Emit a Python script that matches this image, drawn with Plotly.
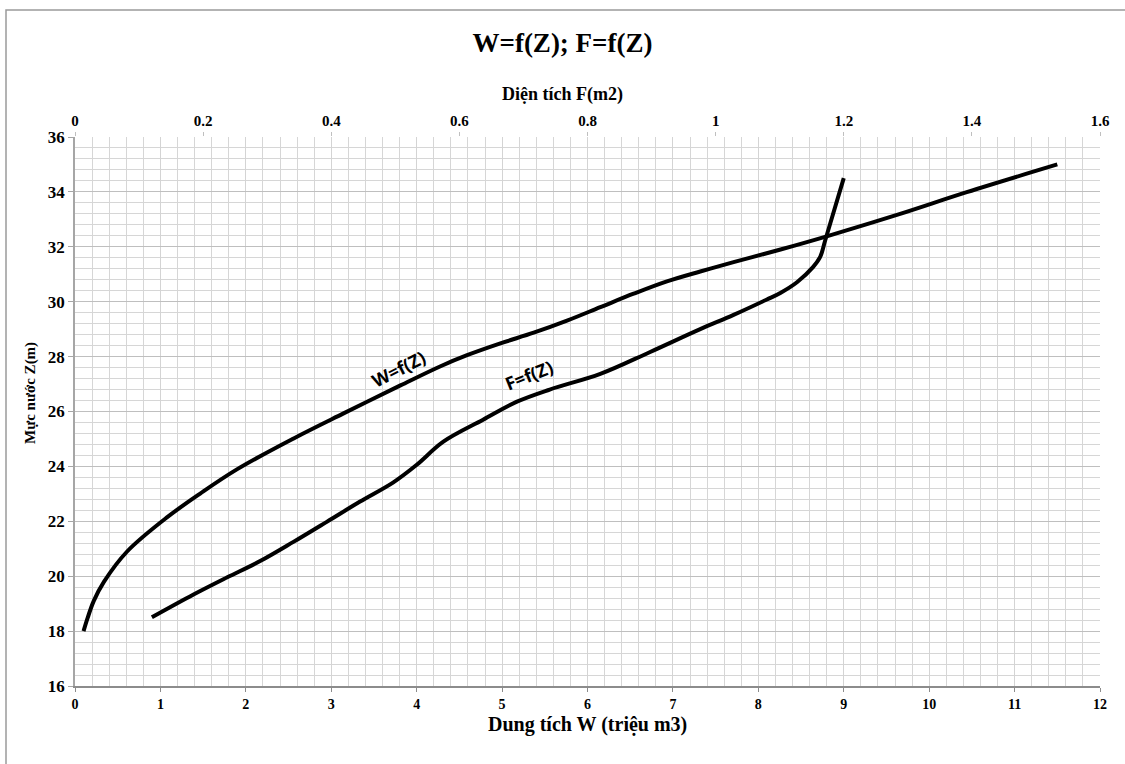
import plotly.graph_objects as go

# ---- data ----
W_storage = [0.10, 0.15, 0.22, 0.34, 0.61, 1.08, 1.47, 1.90, 2.56, 3.15, 3.81, 4.28,
             4.59, 4.98, 5.37, 5.76, 6.15, 6.54, 6.93, 7.32, 7.71, 8.26, 8.80,
             9.66, 10.44, 11.50]
Z_storage = [18.0, 18.5, 19.1, 19.8, 20.9, 22.15, 23.02, 23.9, 25.02, 25.94, 26.95, 27.65,
             28.05, 28.48, 28.87, 29.31, 29.8, 30.29, 30.74, 31.1, 31.44, 31.9, 32.38,
             33.2, 33.99, 35.0]

F_area = [0.120, 0.185, 0.237, 0.289, 0.341, 0.393, 0.445, 0.497, 0.533, 0.575,
          0.637, 0.689, 0.741, 0.820, 0.897, 0.976, 1.028, 1.080, 1.101, 1.127,
          1.152, 1.163, 1.171, 1.200]
Z_area = [18.5, 19.33, 19.95, 20.55, 21.25, 21.98, 22.72, 23.42, 24.05, 24.9,
          25.7, 26.35, 26.8, 27.37, 28.16, 29.0, 29.52, 30.08, 30.32, 30.71,
          31.26, 31.62, 32.23, 34.5]

W_ticks = list(range(0, 13))
F_ticks = [0, 0.2, 0.4, 0.6, 0.8, 1, 1.2, 1.4, 1.6]
Z_ticks = list(range(16, 37, 2))

title_text = "W=f(Z); F=f(Z)"
x_title = "Dung tích W (triệu m3)"
x2_title = "Diện tích F(m2)"
y_title = "Mực nước Z(m)"

serif = "Liberation Serif"

fig = go.Figure()
fig.add_trace(go.Scatter(x=W_storage, y=Z_storage, mode="lines",
                         line=dict(color="black", width=4, shape="spline", smoothing=1.0),
                         xaxis="x", yaxis="y", name="W=f(Z)", showlegend=False))
fig.add_trace(go.Scatter(x=F_area, y=Z_area, mode="lines",
                         line=dict(color="black", width=4, shape="spline", smoothing=1.0),
                         xaxis="x2", yaxis="y", name="F=f(Z)", showlegend=False))

L, R, T, B = 75, 25, 137, 78
W_FIG, H_FIG = 1125, 764
pw = W_FIG - L - R
ph = H_FIG - T - B

def px_to_paper(px, py):
    return (px - L) / pw, (H_FIG - B - py) / ph

fig.update_layout(
    width=W_FIG, height=H_FIG,
    margin=dict(l=L, r=R, t=T, b=B, autoexpand=False),
    paper_bgcolor="white", plot_bgcolor="white",
    title=dict(text=title_text, x=0.5, xref="container", xanchor="center",
               y=1 - 43 / H_FIG, yref="container", yanchor="middle",
               font=dict(family=serif, size=27, color="black", weight="bold")),
    xaxis=dict(range=[0, 12], tickvals=W_ticks, showgrid=True, gridcolor="#d4d4d4", gridwidth=1,
               minor=dict(dtick=0.2, showgrid=True, gridcolor="#d6d6d6", gridwidth=1),
               zeroline=False, showline=True, linecolor="#8c8c8c", linewidth=2,
               ticks="outside", ticklen=4, tickcolor="#8c8c8c",
               tickfont=dict(family=serif, size=14, color="black", weight="bold"),
               fixedrange=True),
    xaxis2=dict(range=[0, 1.6], tickvals=F_ticks, overlaying="x", side="top",
                showgrid=False, zeroline=False, showline=False,
                ticks="outside", ticklen=4, tickcolor="#bfbfbf",
                tickfont=dict(family=serif, size=15, color="black", weight="bold"),
                fixedrange=True),
    yaxis=dict(range=[16, 36], tickvals=Z_ticks, showgrid=True, gridcolor="#bfbfbf", gridwidth=1,
               minor=dict(dtick=0.4, showgrid=True, gridcolor="#d6d6d6", gridwidth=1),
               zeroline=False, showline=True, linecolor="#a6a6a6", linewidth=1.5,
               ticks="outside", ticklen=5, tickcolor="#a6a6a6",
               tickfont=dict(family=serif, size=17, color="black", weight="bold"),
               fixedrange=True),
)

# axis titles as annotations
ax, ay = px_to_paper(587, 724)
fig.add_annotation(text=x_title, x=ax, y=ay, xref="paper", yref="paper",
                   showarrow=False, xanchor="center", yanchor="middle",
                   font=dict(family=serif, size=20, color="black", weight="bold"))
ax, ay = px_to_paper(562, 95)
fig.add_annotation(text=x2_title, x=ax, y=ay, xref="paper", yref="paper",
                   showarrow=False, xanchor="center", yanchor="middle",
                   font=dict(family=serif, size=18, color="black", weight="bold"))
ax, ay = px_to_paper(30, 393)
fig.add_annotation(text=y_title, x=ax, y=ay, xref="paper", yref="paper",
                   showarrow=False, xanchor="center", yanchor="middle", textangle=-90,
                   font=dict(family=serif, size=15, color="black", weight="bold"))

# curve labels
ax, ay = px_to_paper(398, 369)
fig.add_annotation(text="W=f(Z)", x=ax, y=ay, xref="paper", yref="paper",
                   showarrow=False, textangle=-27, xanchor="center", yanchor="middle",
                   font=dict(family="Open Sans", size=18, color="black", weight="bold"))
ax, ay = px_to_paper(529, 375)
fig.add_annotation(text="F=f(Z)", x=ax, y=ay, xref="paper", yref="paper",
                   showarrow=False, textangle=-22, xanchor="center", yanchor="middle",
                   font=dict(family="Open Sans", size=18, color="black", weight="bold"))

# outer frame (chart area border, partly cut by the image edge)
x0, y0 = px_to_paper(6, 770)
x1, y1 = px_to_paper(1135, 10)
fig.add_shape(type="rect", xref="paper", yref="paper", x0=x0, y0=y0, x1=x1, y1=y1,
              line=dict(color="#9a9a9a", width=1.5), fillcolor="rgba(0,0,0,0)", layer="below")

fig.write_html("out.html", config={"displayModeBar": False},
               post_script="document.body.style.margin='0';document.body.style.overflow='hidden';")
